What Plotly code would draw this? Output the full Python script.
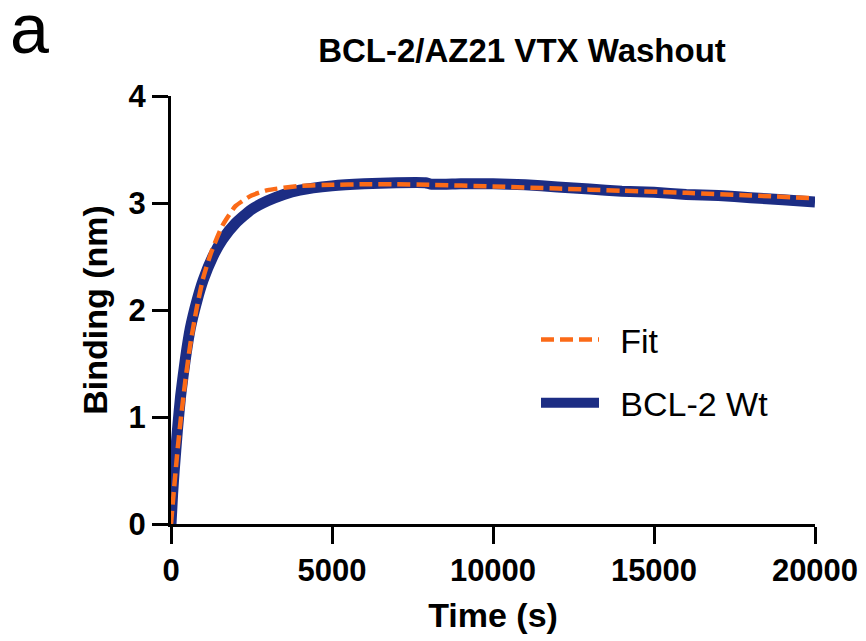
import plotly.graph_objects as go

# Measured trace (BCL-2 Wt)
time_wt = [0, 50, 100, 200, 300, 450, 600, 800, 1000, 1300, 1600, 2000, 2500, 3000, 3500, 4000,
           5000, 6000, 7000, 7900, 8100, 9000, 10000, 11000, 12000, 13000, 14000, 15000,
           16000, 17000, 18000, 19000, 20000]
binding_wt = [0, 0.28, 0.5, 0.88, 1.2, 1.55, 1.83, 2.08, 2.28, 2.5, 2.66, 2.81, 2.94, 3.02, 3.08, 3.12,
              3.16, 3.18, 3.19, 3.19, 3.175, 3.18, 3.18, 3.17, 3.15, 3.13, 3.11, 3.10,
              3.08, 3.07, 3.05, 3.03, 3.01]

# Fit curve
time_fit = [0, 100, 200, 300, 450, 600, 800, 1000, 1250, 1600, 2000, 2500, 3000, 4000, 5000,
            6000, 7000, 8000, 10000, 12000, 14000, 16000, 18000, 20000]
binding_fit = [0, 0.35, 0.68, 0.97, 1.35, 1.68, 2.02, 2.3, 2.54, 2.79, 2.97, 3.07, 3.12, 3.16, 3.17,
               3.175, 3.175, 3.17, 3.155, 3.135, 3.115, 3.095, 3.07, 3.045]

x_ticks = [0, 5000, 10000, 15000, 20000]
y_ticks = [0, 1, 2, 3, 4]

title_text = "BCL-2/AZ21 VTX Washout"
panel_label = "a"

# page body adds an 8px offset; figure sized/positioned to compensate
W, H = 858, 633
L, R, T, B = 163, 51, 88, 117
PW, PH = W - L - R, H - T - B

fig = go.Figure()
fig.add_trace(go.Scatter(
    x=time_wt, y=binding_wt, mode="lines", name="\u00a0\u2009BCL-2 Wt",
    line=dict(color="#1c2d84", width=11, shape="spline", smoothing=0.5),
    legendrank=2, legendgroup="wt",
))
fig.add_trace(go.Scatter(
    x=time_fit, y=binding_fit, mode="lines", name="\u00a0\u2009Fit",
    line=dict(color="#fb6a17", width=4.5, dash="13px,6px", shape="spline", smoothing=0.5),
    legendrank=1, legendgroup="fit",
))

font_family = "Liberation Sans, Arial, Helvetica, sans-serif"

fig.update_layout(
    width=W, height=H,
    margin=dict(l=L, r=R, t=T, b=B, autoexpand=False),
    paper_bgcolor="white", plot_bgcolor="white",
    font=dict(family=font_family, color="black"),
    title=dict(text="<b>" + title_text + "</b>", x=514 / W, xanchor="center",
               xref="container", y=1 - 42 / H, yanchor="middle", yref="container",
               font=dict(size=33, color="black")),
    showlegend=True,
    legend=dict(x=(528 - L) / PW, y=(PH + T - 303) / PH, xanchor="left", yanchor="top",
                font=dict(size=34, color="black"), bgcolor="rgba(0,0,0,0)",
                traceorder="grouped", tracegroupgap=16, itemwidth=58),
    xaxis=dict(range=[0, 20000], tickvals=x_ticks, ticktext=[str(v) for v in x_ticks],
               showline=True, linecolor="black", linewidth=3, mirror=False,
               ticks="outside", ticklen=17, tickwidth=3, tickcolor="black",
               showgrid=False, zeroline=False,
               tickfont=dict(size=31, color="black", family=font_family, weight="bold"),
               title=dict(text="<b>Time (s)</b>", font=dict(size=34, color="black"), standoff=16)),
    yaxis=dict(range=[0, 4], tickvals=y_ticks, ticktext=[str(v) for v in y_ticks],
               showline=True, linecolor="black", linewidth=3, mirror=False,
               ticks="outside", ticklen=16, tickwidth=3, tickcolor="black",
               showgrid=False, zeroline=False,
               tickfont=dict(size=31, color="black", family=font_family, weight="bold"),
               title=dict(text="<b>Binding (nm)</b>", font=dict(size=34, color="black"), standoff=11)),
    annotations=[dict(text=panel_label, xref="paper", yref="paper",
                      x=(0 - L) / PW, y=(PH + T - 21) / PH,
                      xanchor="left", yanchor="middle", showarrow=False,
                      font=dict(size=70, color="black", family=font_family))],
)

fig.write_html("out.html")
